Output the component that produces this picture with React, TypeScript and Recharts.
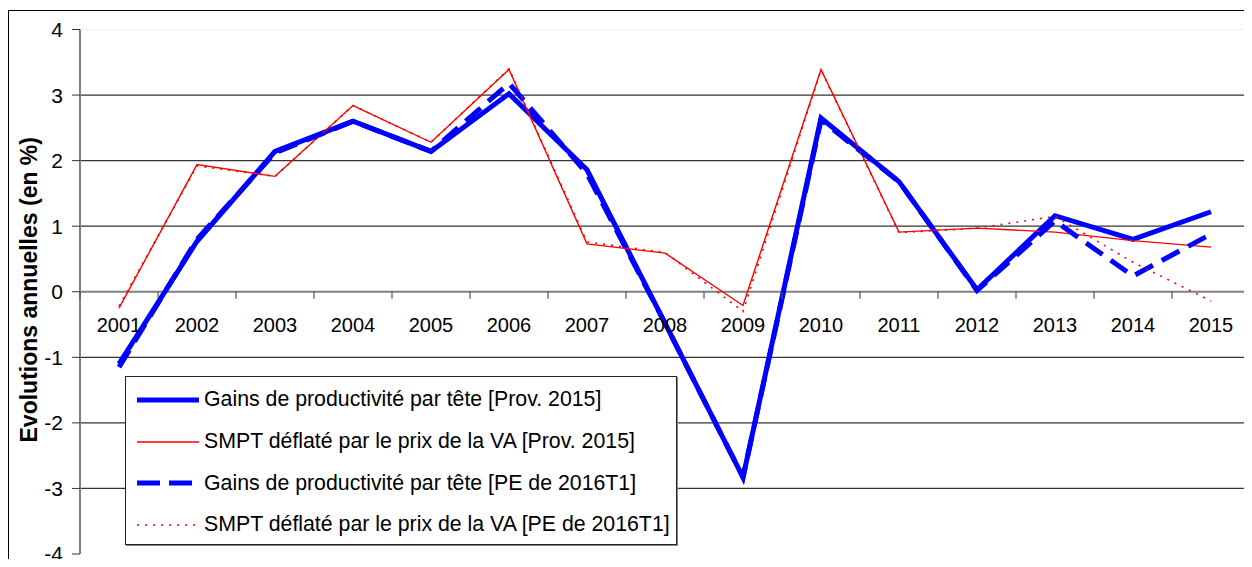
import React from "react";
import {
  LineChart,
  Line,
  XAxis,
  YAxis,
  ReferenceLine,
  Label,
} from "recharts";

// Évolutions annuelles : gains de productivité vs SMPT déflaté, 2001-2015

const YEARS = [
  "2001", "2002", "2003", "2004", "2005", "2006", "2007", "2008",
  "2009", "2010", "2011", "2012", "2013", "2014", "2015",
];

const GAINS_PROV = [-1.1, 0.77, 2.14, 2.6, 2.14, 3.02, 1.86, -0.48, -2.83, 2.65, 1.68, 0.03, 1.16, 0.8, 1.22];
const SMPT_PROV = [-0.25, 1.94, 1.76, 2.84, 2.28, 3.39, 0.73, 0.59, -0.21, 3.39, 0.91, 0.97, 0.91, 0.78, 0.68];
const GAINS_PE = [-1.15, 0.8, 2.12, 2.6, 2.14, 3.18, 1.8, -0.48, -2.83, 2.62, 1.68, 0.02, 1.08, 0.24, 0.88];
const SMPT_PE = [-0.22, 1.92, 1.76, 2.84, 2.28, 3.4, 0.76, 0.6, -0.3, 3.38, 0.9, 0.97, 1.15, 0.45, -0.14];

const Y_TICKS = [-4, -3, -2, -1, 0, 1, 2, 3, 4];

const SERIES = [
  { key: "gainsProv", name: "Gains de productivité par tête [Prov. 2015]", color: "#0000ff", width: 5, dash: undefined, legendDash: undefined },
  { key: "smptProv", name: "SMPT déflaté par le prix de la VA [Prov. 2015]", color: "#ff0000", width: 1.4, dash: undefined, legendDash: undefined },
  { key: "gainsPe", name: "Gains de productivité par tête [PE de 2016T1]", color: "#0000ff", width: 5, dash: "20 10", legendDash: "23 9" },
  { key: "smptPe", name: "SMPT déflaté par le prix de la VA [PE de 2016T1]", color: "#ff0000", width: 1.6, dash: "2 6", legendDash: "2 6" },
];

const data = YEARS.map((year, i) => ({
  year,
  gainsProv: GAINS_PROV[i],
  smptProv: SMPT_PROV[i],
  gainsPe: GAINS_PE[i],
  smptPe: SMPT_PE[i],
}));

const W = 1252;
const H = 567;
const MARGIN = { top: 29.5, right: 2, bottom: 0, left: 0 };
const Y_AXIS_W = 80;
const X_AXIS_H = 13;
const PLOT_W = W - MARGIN.left - MARGIN.right - Y_AXIS_W;
const PLOT_H = H - MARGIN.top - MARGIN.bottom - X_AXIS_H;
const BAND = PLOT_W / YEARS.length;
const ZERO_Y = MARGIN.top + (PLOT_H * 4) / 8;
const FONT = '"Liberation Sans", Arial, sans-serif';

// category labels sit under the zero line, tick marks on band edges
function YearTick(props: any) {
  const { x, payload, index } = props;
  const last = index === YEARS.length - 1;
  return (
    <g>
      <line x1={x - BAND / 2} x2={x - BAND / 2} y1={ZERO_Y} y2={ZERO_Y + 7} stroke="#555" strokeWidth={1.2} />
      {last && (
        <line x1={x + BAND / 2} x2={x + BAND / 2} y1={ZERO_Y} y2={ZERO_Y + 7} stroke="#555" strokeWidth={1.2} />
      )}
      <text
        x={x}
        y={ZERO_Y + 33}
        textAnchor="middle"
        dominantBaseline="central"
        fontSize={20}
        fontFamily={FONT}
        fill="#000"
      >
        {payload.value}
      </text>
    </g>
  );
}

function AxisTitle(props: any) {
  const vb = props.viewBox || { x: 0, y: MARGIN.top, width: Y_AXIS_W, height: PLOT_H };
  const cx = 29;
  const cy = vb.y + vb.height / 2 - 2;
  return (
    <text
      x={cx}
      y={cy}
      transform={`rotate(-90, ${cx}, ${cy})`}
      textAnchor="middle"
      dominantBaseline="central"
      fontSize={23}
      fontWeight="bold"
      fontFamily={FONT}
      fill="#000"
    >
      Evolutions annuelles (en %)
    </text>
  );
}

function LegendBox() {
  return (
    <div
      style={{
        position: "absolute",
        left: 125,
        top: 376,
        boxSizing: "border-box",
        width: 552,
        height: 169,
        border: "1px solid #222",
        boxShadow: "1px 1px 0 #888",
        background: "#fff",
        padding: "2px 0 0 0",
        fontFamily: FONT,
        fontSize: 21.3,
        color: "#000",
      }}
    >
      {SERIES.map((s) => (
        <div key={s.key} style={{ display: "flex", alignItems: "center", height: 41.7 }}>
          <svg width={78} height={20} style={{ flex: "none" }}>
            <line
              x1={11}
              x2={73}
              y1={10}
              y2={10}
              stroke={s.color}
              strokeWidth={s.width}
              strokeDasharray={s.legendDash}
            />
          </svg>
          <span style={{ whiteSpace: "nowrap" }}>{s.name}</span>
        </div>
      ))}
    </div>
  );
}

export default function App() {
  return (
    <div
      style={{
        position: "relative",
        width: W,
        height: H,
        margin: -8,
        overflow: "hidden",
        background: "#fff",
      }}
    >
      <div
        style={{
          position: "absolute",
          left: 8,
          top: 10,
          width: 2000,
          height: 2000,
          border: "1px solid #000",
        }}
      />
      <LineChart
        width={W}
        height={H}
        data={data}
        margin={MARGIN}
        style={{ position: "absolute", left: 0, top: 0 }}
      >
        {Y_TICKS.filter((v) => v !== 0 && v !== -4).map((v) => (
          <ReferenceLine key={v} y={v} stroke={v === 4 ? "#eeeeee" : "#333"} strokeWidth={1.2} />
        ))}
        <ReferenceLine y={0} stroke="#808080" strokeWidth={2} />
        <XAxis
          dataKey="year"
          scale="band"
          height={X_AXIS_H}
          axisLine={false}
          tickLine={false}
          interval={0}
          tick={<YearTick />}
        />
        <YAxis
          width={Y_AXIS_W}
          domain={[-4, 4]}
          ticks={Y_TICKS}
          interval={0}
          axisLine={{ stroke: "#808080", strokeWidth: 2 }}
          tickLine={{ stroke: "#333" }}
          tickSize={8}
          tickMargin={9}
          tick={{ fontSize: 21, fontFamily: FONT, fill: "#000" }}
        >
          <Label content={<AxisTitle />} />
        </YAxis>
        {SERIES.map((s) => (
          <Line
            key={s.key}
            dataKey={s.key}
            name={s.name}
            type="linear"
            stroke={s.color}
            strokeWidth={s.width}
            strokeDasharray={s.dash}
            strokeLinejoin="miter"
            dot={false}
            activeDot={false}
            isAnimationActive={false}
          />
        ))}
      </LineChart>
      <LegendBox />
    </div>
  );
}
